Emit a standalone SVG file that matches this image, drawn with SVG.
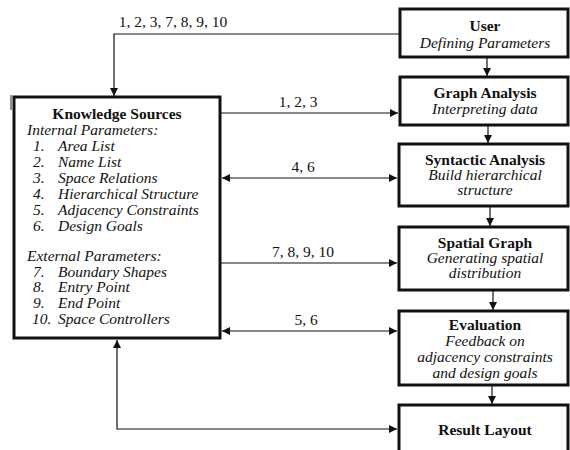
<svg xmlns="http://www.w3.org/2000/svg" width="570" height="450" viewBox="0 0 570 450">
<defs>
<marker id="ah" viewBox="0 0 10 10" refX="10" refY="5" markerWidth="8" markerHeight="8" markerUnits="userSpaceOnUse" orient="auto-start-reverse">
<path d="M0,0 L10,5 L0,10 z" fill="#111"/>
</marker>
<style>
.box{fill:#fff;stroke:#111;stroke-width:3}
.t{font-family:'Liberation Serif','DejaVu Serif',serif;font-size:15.5px;fill:#111}
.b{font-weight:bold;text-anchor:middle}
.i{font-style:italic}
.c{text-anchor:middle}
.ln{fill:none;stroke:#111;stroke-width:1.2}
</style>
</defs>
<rect width="570" height="450" fill="#fff"/>
<g id="connectors">
<path class="ln" d="M399,34 H114 V96" marker-end="url(#ah)"/>
<path class="ln" d="M221,113 H398" marker-end="url(#ah)"/>
<path class="ln" d="M222,178 H397" marker-start="url(#ah)" marker-end="url(#ah)"/>
<path class="ln" d="M221,263 H397" marker-end="url(#ah)"/>
<path class="ln" d="M222,331 H397" marker-start="url(#ah)" marker-end="url(#ah)"/>
<path class="ln" d="M117,340 V429 H397" marker-start="url(#ah)" marker-end="url(#ah)"/>
<path class="ln" d="M487,58 V76" marker-end="url(#ah)"/>
<path class="ln" d="M488,126 V143" marker-end="url(#ah)"/>
<path class="ln" d="M490,207 V226" marker-end="url(#ah)"/>
<path class="ln" d="M493,291 V310" marker-end="url(#ah)"/>
<path class="ln" d="M492,386 V404" marker-end="url(#ah)"/>
<line x1="11" y1="95" x2="11" y2="110" stroke="#222" stroke-width="1"/>
<text class="t c" x="173" y="27">1, 2, 3, 7, 8, 9, 10</text>
<text class="t c" x="298" y="107">1, 2, 3</text>
<text class="t c" x="303" y="172">4, 6</text>
<text class="t c" x="303" y="257">7, 8, 9, 10</text>
<text class="t c" x="306" y="325">5, 6</text>
</g>
<g id="knowledge">
<rect class="box" x="14" y="97" width="206" height="241"/>
<text class="t b" x="117" y="119">Knowledge Sources</text>
<text class="t i" x="27" y="135">Internal Parameters:</text>
<g class="t i">
<text x="33" y="151">1.</text><text x="58" y="151">Area List</text>
<text x="33" y="167">2.</text><text x="58" y="167">Name List</text>
<text x="33" y="183">3.</text><text x="58" y="183">Space Relations</text>
<text x="33" y="199">4.</text><text x="58" y="199">Hierarchical Structure</text>
<text x="33" y="215">5.</text><text x="58" y="215">Adjacency Constraints</text>
<text x="33" y="231">6.</text><text x="58" y="231">Design Goals</text>
</g>
<text class="t i" x="27" y="261">External Parameters:</text>
<g class="t i">
<text x="33" y="277">7.</text><text x="58" y="277">Boundary Shapes</text>
<text x="33" y="292">8.</text><text x="58" y="292">Entry Point</text>
<text x="33" y="308">9.</text><text x="58" y="308">End Point</text>
<text x="32" y="324">10.</text><text x="58" y="324">Space Controllers</text>
</g>
</g>
<g id="user">
<rect class="box" x="400" y="9" width="168" height="48"/>
<text class="t b" x="485" y="31">User</text>
<text class="t i c" x="485" y="48">Defining Parameters</text>
</g>
<g id="graph-analysis">
<rect class="box" x="400" y="77" width="168" height="48"/>
<text class="t b" x="485" y="98">Graph Analysis</text>
<text class="t i c" x="485" y="114">Interpreting data</text>
</g>
<g id="syntactic-analysis">
<rect class="box" x="399" y="144" width="169" height="62"/>
<text class="t b" x="485" y="165">Syntactic Analysis</text>
<text class="t i c" x="485" y="180">Build hierarchical</text>
<text class="t i c" x="485" y="195">structure</text>
</g>
<g id="spatial-graph">
<rect class="box" x="399" y="227" width="169" height="63"/>
<text class="t b" x="485" y="248">Spatial Graph</text>
<text class="t i c" x="485" y="263">Generating spatial</text>
<text class="t i c" x="485" y="278">distribution</text>
</g>
<g id="evaluation">
<rect class="box" x="399" y="311" width="169" height="74"/>
<text class="t b" x="485" y="330">Evaluation</text>
<text class="t i c" x="485" y="346">Feedback on</text>
<text class="t i c" x="485" y="362">adjacency constraints</text>
<text class="t i c" x="485" y="378">and design goals</text>
</g>
<g id="result-layout">
<rect class="box" x="399" y="405" width="169" height="60"/>
<text class="t b" x="485" y="435">Result Layout</text>
</g>
</svg>
